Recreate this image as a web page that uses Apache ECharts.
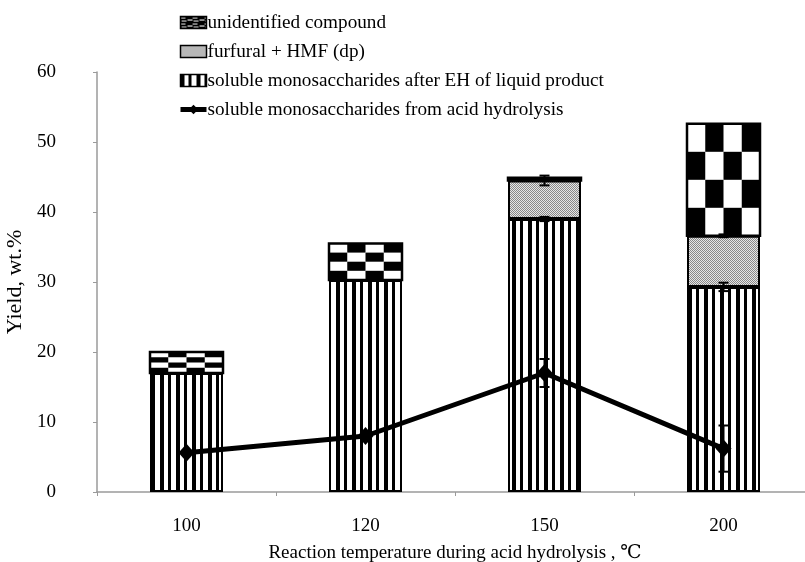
<!DOCTYPE html>
<html>
<head>
<meta charset="utf-8">
<script src="https://cdn.jsdelivr.net/npm/echarts@6/dist/echarts.min.js"></script>
<style>
  html, body { margin: 0; padding: 0; background: #fff; }
  #chart { width: 805px; height: 562px; }
</style>
</head>
<body>
<div id="chart"></div>
<script>
// Reaction temperatures (°C)
const categories = ['100', '120', '150', '200'];
// Stacked yields, wt.%
const ehMono = [17, 30.3, 39, 29.3];          // soluble monosaccharides after EH of liquid product
const furfuralHmf = [0, 0, 5.5, 7.3];         // furfural + HMF (dp)
const unidentified = [3, 5.2, 0.4, 16];       // unidentified compound
// Line: soluble monosaccharides from acid hydrolysis
const acidMono = [5.6, 8.0, 17.0, 6.2];
// Error bar half-widths
const acidMonoErr = [0, 0, 2.0, 3.3];
const ehMonoErr = [0, 0, 0.3, 0.6];
const furfuralErr = [0, 0, 0.7, 0.2];

const yTicks = { min: 0, max: 60, interval: 10 };

const FONT = '"Liberation Serif", "DejaVu Serif", serif';
const BAR_W = 73;

// ---- fill patterns ----
function makeCanvas(w, h, draw) {
  const c = document.createElement('canvas');
  c.width = w; c.height = h;
  draw(c.getContext('2d'));
  return c;
}
const stripeCanvas = makeCanvas(16, 4, ctx => {
  ctx.fillStyle = '#fff'; ctx.fillRect(0, 0, 16, 4);
  ctx.fillStyle = '#000';
  ctx.fillRect(0, 0, 4, 4);
  ctx.fillRect(8, 0, 3, 4);
});
const stippleCanvas = makeCanvas(4, 4, ctx => {
  for (let y = 0; y < 4; y++) {
    for (let x = 0; x < 4; x++) {
      ctx.fillStyle = ((x + y) % 2 === 0) ? '#888' : '#e6e6e6';
      ctx.fillRect(x, y, 1, 1);
    }
  }
});
// small brick-like swatch for the legend entry of the checker series
const brickCanvas = makeCanvas(12, 6, ctx => {
  ctx.fillStyle = '#000'; ctx.fillRect(0, 0, 12, 6);
  ctx.fillStyle = '#fff';
  ctx.fillRect(0, 1, 5, 1); ctx.fillRect(7, 3, 5, 1);
  ctx.fillRect(1, 4, 5, 1);
});

const stripeFill = { image: stripeCanvas, repeat: 'repeat' };
const stippleFill = { image: stippleCanvas, repeat: 'repeat' };
const brickFill = { image: brickCanvas, repeat: 'repeat' };

// data for the checker segment: [category index, stack base, value]
const uniData = categories.map((_, i) => [i, ehMono[i] + furfuralHmf[i], unidentified[i]]);

// error bar data: [category index, center value, half-width]
const errData = [];
categories.forEach((_, i) => {
  if (acidMonoErr[i] > 0) errData.push([i, acidMono[i], acidMonoErr[i]]);
  if (ehMonoErr[i] > 0) errData.push([i, ehMono[i], ehMonoErr[i]]);
  if (furfuralErr[i] > 0) errData.push([i, ehMono[i] + furfuralHmf[i], furfuralErr[i]]);
});

const chart = echarts.init(document.getElementById('chart'), null, { renderer: 'canvas' });

chart.setOption({
  animation: false,
  backgroundColor: '#fff',
  textStyle: { fontFamily: FONT, color: '#000' },
  grid: { left: 97, right: -8, top: 72, bottom: 70, containLabel: false, outerBoundsMode: 'none' },
  legend: {
    orient: 'vertical',
    left: 173,
    top: 8,
    itemWidth: 26,
    itemHeight: 12,
    itemGap: 10,
    textStyle: { fontFamily: FONT, fontSize: 19.2, color: '#000', padding: [0, 0, 0, -4] },
    data: [
      { name: 'unidentified compound', icon: 'rect', itemStyle: { color: brickFill, borderColor: '#000', borderWidth: 1.5 } },
      { name: 'furfural + HMF (dp)', icon: 'rect', itemStyle: { color: stippleFill, borderColor: '#000', borderWidth: 1.5 } },
      { name: 'soluble monosaccharides after EH of liquid product', icon: 'rect', itemStyle: { color: stripeFill, borderColor: '#000', borderWidth: 1.5 } },
      { name: 'soluble monosaccharides from acid hydrolysis', lineStyle: { width: 5, color: '#000' } }
    ]
  },
  xAxis: {
    type: 'category',
    data: categories,
    boundaryGap: true,
    axisLine: { lineStyle: { color: '#9a9a9a', width: 1.5 } },
    axisTick: { show: true, alignWithLabel: false, length: 4, lineStyle: { color: '#9a9a9a' } },
    axisLabel: { fontFamily: FONT, fontSize: 19, color: '#000', margin: 25 },
    name: 'Reaction temperature during acid hydrolysis , \u2103',
    nameLocation: 'middle',
    nameGap: 52,
    nameTextStyle: { fontFamily: FONT, fontSize: 19, color: '#000' }
  },
  yAxis: {
    type: 'value',
    min: yTicks.min,
    max: yTicks.max,
    interval: yTicks.interval,
    axisLine: { show: true, lineStyle: { color: '#9a9a9a', width: 1.5 } },
    axisTick: { show: true, length: 4, lineStyle: { color: '#9a9a9a' } },
    axisLabel: { fontFamily: FONT, fontSize: 19, color: '#000', margin: 41 },
    splitLine: { show: false },
    name: 'Yield, wt.%',
    nameLocation: 'middle',
    nameGap: 69,
    nameTextStyle: { fontFamily: FONT, fontSize: 22, color: '#000' }
  },
  series: [
    {
      name: 'soluble monosaccharides after EH of liquid product',
      type: 'bar',
      stack: 'total',
      barWidth: BAR_W,
      data: ehMono,
      itemStyle: { color: stripeFill, borderColor: '#000', borderWidth: 2 },
      z: 2
    },
    {
      name: 'furfural + HMF (dp)',
      type: 'bar',
      stack: 'total',
      barWidth: BAR_W,
      data: furfuralHmf,
      itemStyle: { color: stippleFill, borderColor: '#000', borderWidth: 2 },
      z: 2
    },
    {
      name: 'unidentified compound',
      type: 'custom',
      data: uniData,
      encode: { x: 0, y: [1, 2] },
      itemStyle: { color: brickFill },
      z: 2,
      renderItem(params, api) {
        const i = api.value(0), base = api.value(1), v = api.value(2);
        const pBase = api.coord([i, base]);
        const pTop = api.coord([i, base + v]);
        const x0 = pBase[0] - BAR_W / 2;
        const h = pBase[1] - pTop[1];
        const y0 = pTop[1];
        const cols = 4, rows = 4;
        const cw = BAR_W / cols, ch = h / rows;
        const children = [{
          type: 'rect',
          shape: { x: x0, y: y0, width: BAR_W, height: h },
          style: { fill: h < 6 ? '#000' : '#fff', stroke: null }
        }];
        if (h >= 6) {
          for (let r = 0; r < rows; r++) {
            for (let c = 0; c < cols; c++) {
              if ((r + c) % 2 === 1) {
                children.push({
                  type: 'rect',
                  shape: { x: x0 + c * cw, y: y0 + r * ch, width: cw, height: ch },
                  style: { fill: '#000' }
                });
              }
            }
          }
        }
        children.push({
          type: 'rect',
          shape: { x: x0, y: y0, width: BAR_W, height: h },
          style: { fill: null, stroke: '#000', lineWidth: 2.5 }
        });
        return { type: 'group', children };
      }
    },
    {
      name: 'soluble monosaccharides from acid hydrolysis',
      type: 'line',
      data: acidMono,
      symbol: 'diamond',
      symbolSize: [16, 18],
      lineStyle: { color: '#000', width: 5 },
      itemStyle: { color: '#000' },
      z: 4
    },
    {
      name: 'error',
      type: 'custom',
      data: errData,
      z: 5,
      renderItem(params, api) {
        const i = api.value(0), c = api.value(1), e = api.value(2);
        const hi = api.coord([i, c + e]);
        const lo = api.coord([i, c - e]);
        const cap = 5;
        const st = { stroke: '#000', lineWidth: 2 };
        return {
          type: 'group',
          children: [
            { type: 'line', shape: { x1: hi[0], y1: hi[1], x2: lo[0], y2: lo[1] }, style: st },
            { type: 'line', shape: { x1: hi[0] - cap, y1: hi[1], x2: hi[0] + cap, y2: hi[1] }, style: st },
            { type: 'line', shape: { x1: lo[0] - cap, y1: lo[1], x2: lo[0] + cap, y2: lo[1] }, style: st }
          ]
        };
      }
    }
  ]
});
</script>
</body>
</html>
